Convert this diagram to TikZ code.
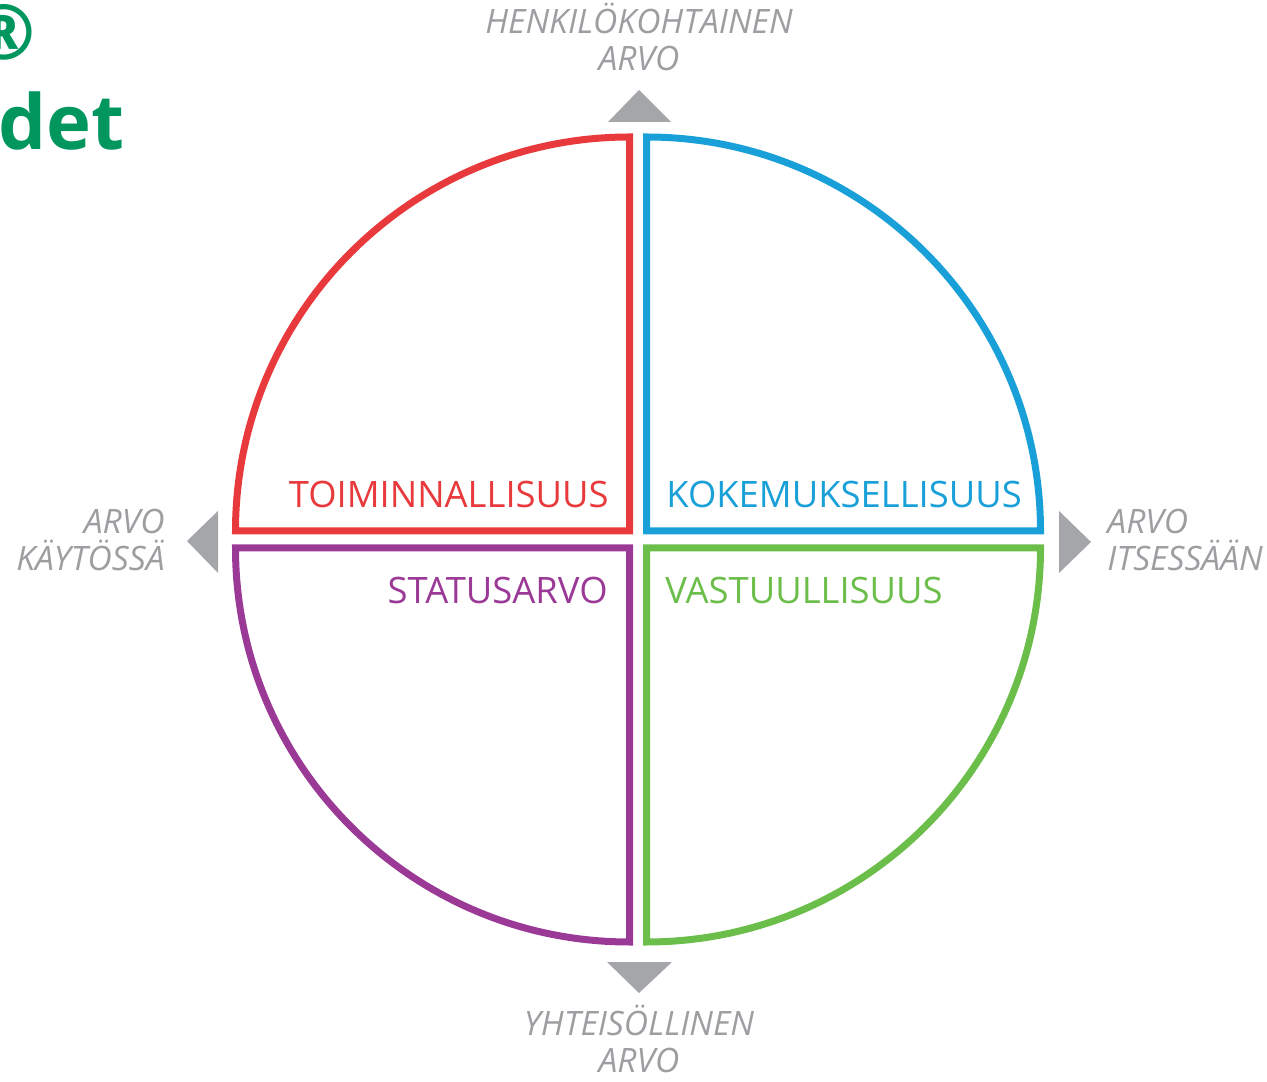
\documentclass[tikz,border=0pt]{standalone}
\usepackage{fontspec}
\setmainfont{Open Sans}
\usetikzlibrary{positioning}
\definecolor{toimred}{RGB}{232,58,60}
\definecolor{kokeblue}{RGB}{26,160,216}
\definecolor{statpurple}{RGB}{155,58,150}
\definecolor{vastgreen}{RGB}{108,190,75}
\definecolor{axisgray}{RGB}{158,158,162}
\definecolor{trigray}{RGB}{165,166,170}
\definecolor{titlegreen}{RGB}{0,150,94}
\tikzstyle{quarter} =
[
	line width=3.5pt
	, line join=miter
]
\tikzstyle{quadlabel} =
[
	inner sep=0pt
	, font=\fontsize{18.2}{22}\selectfont
]
\tikzstyle{axislabel} =
[
	inner sep=0pt
	, text=axisgray
	, font=\fontsize{16.8}{20}\selectfont\itshape
]
\tikzstyle{arrowhead} = [fill=trigray, draw=none]
\tikzstyle{titletext} = [inner sep=0pt, text=titlegreen, font=\fontsize{38}{44}\selectfont\bfseries]

\begin{document}
\begin{tikzpicture}[x=0.5pt, y=0.5pt]
\useasboundingbox (0,0) rectangle (1267,1081);

\draw[quarter, toimred] (629.5,550) -- (235.5,550) arc[start angle=180, end angle=90, radius=394] -- cycle;
\draw[quarter, kokeblue] (646.5,550) -- (646.5,944) arc[start angle=90, end angle=0, radius=394] -- cycle;
\draw[quarter, statpurple] (629.5,533) -- (629.5,139) arc[start angle=270, end angle=180, radius=394] -- cycle;
\draw[quarter, vastgreen] (646.5,533) -- (1040.5,533) arc[start angle=0, end angle=-90, radius=394] -- cycle;

\node(toim)[quadlabel, text=toimred, anchor=base east] at (609,573) {TOIMINNALLISUUS};
\node(koke)[quadlabel, text=kokeblue, anchor=base west] at (666,573) {KOKEMUKSELLISUUS};
\node(stat)[quadlabel, text=statpurple, anchor=base east] at (608,477) {STATUSARVO};
\node(vast)[quadlabel, text=vastgreen, anchor=base west] at (665,477) {VASTUULLISUUS};

\fill[arrowhead] (639,991) -- (671,959) -- (608,959) -- cycle;
\fill[arrowhead] (639,88) -- (672,119) -- (607,119) -- cycle;
\fill[arrowhead] (187,540) -- (218,570) -- (218,508) -- cycle;
\fill[arrowhead] (1091,539) -- (1059,570) -- (1059,508) -- cycle;

\node(henk1)[axislabel, anchor=base] at (639,1047) {HENKILÖKOHTAINEN};
\node(henk2)[axislabel, anchor=base] at (639,1010) {ARVO};
\node(yht1)[axislabel, anchor=base] at (639,46) {YHTEISÖLLINEN};
\node(yht2)[axislabel, anchor=base] at (639,9) {ARVO};
\node(kay1)[axislabel, anchor=base east] at (165,547) {ARVO};
\node(kay2)[axislabel, anchor=base east] at (165,510) {KÄYTÖSSÄ};
\node(its1)[axislabel, anchor=base west] at (1107,547) {ARVO};
\node(its2)[axislabel, anchor=base west] at (1107,510) {ITSESSÄÄN};

\node(reg)[titletext, anchor=center] at (4.5,1048.5) {®};
\node(det)[titletext, anchor=base east] at (125,931) {det};

\end{tikzpicture}
\end{document}
